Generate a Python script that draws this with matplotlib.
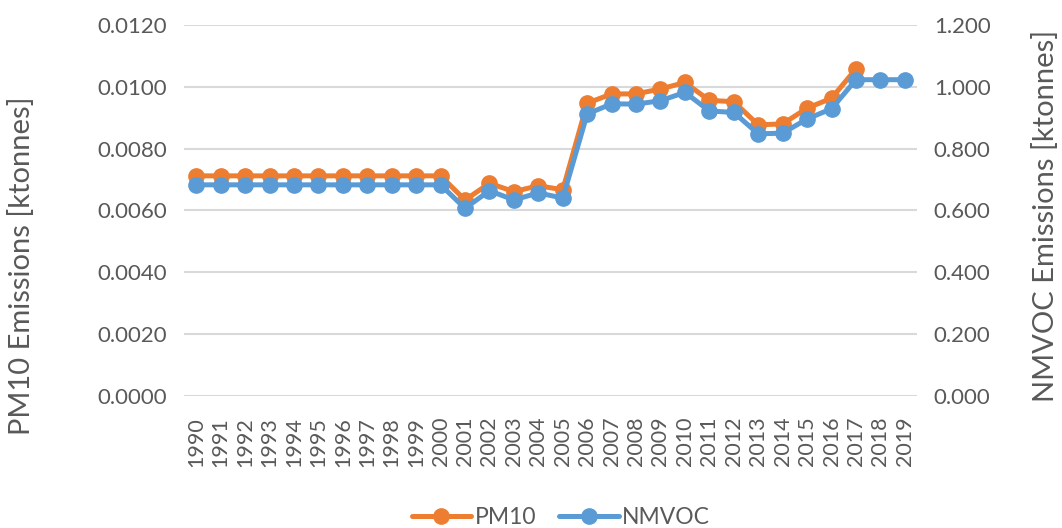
import numpy as np
import matplotlib
matplotlib.use("Agg")
import matplotlib.pyplot as plt

plt.rcParams['font.family'] = ['Lato', 'DejaVu Sans']

years = [str(y) for y in range(1990, 2020)]

pm10 = [0.00712, 0.00712, 0.00712, 0.00712, 0.00712, 0.00712, 0.00712, 0.00712,
        0.00712, 0.00712, 0.00712, 0.00634, 0.00688, 0.00661, 0.00680, 0.00667,
        0.00947, 0.00977, 0.00977, 0.00993, 0.01014, 0.00956, 0.00952, 0.00877,
        0.00880, 0.00931, 0.00963, 0.01058, np.nan, np.nan]

nmvoc = [0.683, 0.683, 0.683, 0.683, 0.683, 0.683, 0.683, 0.683,
         0.683, 0.683, 0.683, 0.607, 0.664, 0.634, 0.657, 0.640,
         0.912, 0.945, 0.944, 0.955, 0.982, 0.922, 0.917, 0.848,
         0.850, 0.896, 0.929, 1.023, 1.023, 1.023]

pm10_ticks = [0.0, 0.002, 0.004, 0.006, 0.008, 0.010, 0.012]
nmvoc_ticks = [0.0, 0.2, 0.4, 0.6, 0.8, 1.0, 1.2]

orange = '#ED7D31'
blue = '#5B9BD5'
text_col = '#595959'
grid_col = '#D9D9D9'

fig = plt.figure(figsize=(10.62, 5.28), dpi=100)
ax = fig.add_axes([0.1733, 0.25, 0.6902, 0.7027])
ax2 = ax.twinx()

x = np.arange(len(years))

l1, = ax.plot(x, pm10, color=orange, lw=3.6, marker='o', ms=11,
              solid_capstyle='round', label='PM10', zorder=3)
l2, = ax2.plot(x, nmvoc, color=blue, lw=3.6, marker='o', ms=11,
               solid_capstyle='round', label='NMVOC', zorder=3)

ax.set_xlim(-0.5, len(years) - 0.5)
ax.set_ylim(0, 0.012)
ax2.set_ylim(0, 1.2)
ax.set_yticks(pm10_ticks)
ax.set_yticklabels([f'{v:.4f}' for v in pm10_ticks])
ax2.set_yticks(nmvoc_ticks)
ax2.set_yticklabels([f'{v:.3f}' for v in nmvoc_ticks])
ax.set_xticks(x)
ax.set_xticklabels(years, rotation=90)

ax.yaxis.grid(True, color=grid_col, lw=1.5)
ax.set_axisbelow(True)

for a in (ax, ax2):
    for s in a.spines.values():
        s.set_visible(False)
    a.tick_params(length=0, labelsize=16, colors=text_col)
ax.tick_params(axis='y', pad=12)
ax2.tick_params(axis='y', pad=12)
ax.tick_params(axis='x', pad=15, labelsize=15.5)

ax.set_ylabel('PM10 Emissions [ktonnes]', fontsize=21, color=text_col)
ax2.set_ylabel('NMVOC Emissions [ktonnes]', fontsize=21, color=text_col,
               rotation=90)
ax.yaxis.set_label_coords(-0.203, 0.35)
ax2.yaxis.set_label_coords(1.157, 0.485)

ax2.set_zorder(ax.get_zorder() + 1)
ax2.patch.set_visible(False)

fig.legend(handles=[l1, l2], loc='center', bbox_to_anchor=(0.528, 0.02),
           ncol=2, frameon=False, fontsize=16.5, handlelength=2.6,
           handletextpad=0.15, columnspacing=1.0, labelcolor=text_col)

fig.savefig('out.png', dpi=100)
